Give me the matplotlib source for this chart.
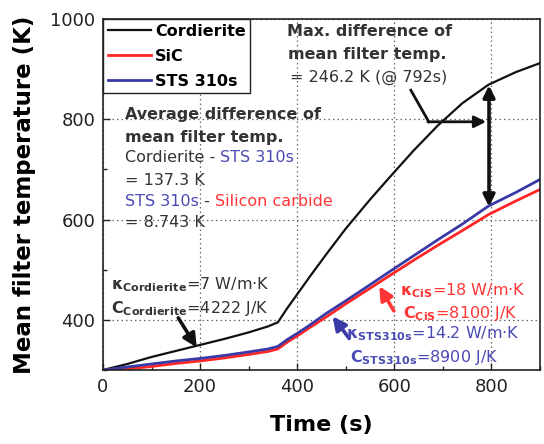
import matplotlib
matplotlib.use("Agg")
import matplotlib.pyplot as plt
from matplotlib.ticker import MultipleLocator
import numpy as np

# values
time_s = [0, 50, 100, 150, 200, 250, 300, 340, 360, 380, 400, 425, 460, 500,
          550, 590, 640, 690, 740, 794, 850, 900]
cordierite = [300, 312, 326, 338, 350, 362, 375, 387, 395, 424, 451, 485, 531, 582,
              640, 684, 738, 788, 832, 869, 894, 912]
sts310s = [300, 306, 312, 318, 323, 329, 336, 342, 347, 361, 373, 389, 413, 438,
           470, 496, 528, 560, 591, 627, 654, 680]
sic = [300, 302, 307, 313, 318, 324, 331, 337, 342, 356, 368, 384, 406, 432,
       463, 488, 519, 549, 578, 610, 637, 660]
max_diff_time = 792

BLACK = '#111111'
RED = '#ff2626'
BLUE = '#3a3aa6'
GRAY = '#333333'
TBLUE = '#4a4ab4'
TRED = '#ff3535'

plt.rcParams['font.family'] = 'DejaVu Sans'
plt.rcParams['mathtext.fontset'] = 'dejavusans'

fig = plt.figure(figsize=(5.44, 4.44), dpi=100)
ax = fig.add_axes([103 / 544, 1 - 370 / 444, 437 / 544, 351 / 444])

ax.plot(time_s, cordierite, color=BLACK, lw=1.6, label='Cordierite')
ax.plot(time_s, sic, color=RED, lw=2.0, label='SiC')
ax.plot(time_s, sts310s, color=BLUE, lw=2.0, label='STS 310s')

ax.set_xlim(0, 900)
ax.set_ylim(300, 1000)
ax.xaxis.set_major_locator(MultipleLocator(200))
ax.xaxis.set_minor_locator(MultipleLocator(100))
ax.yaxis.set_major_locator(MultipleLocator(200))
ax.yaxis.set_minor_locator(MultipleLocator(100))
ax.tick_params(which='both', direction='in', labelsize=13, colors='#222222', pad=5.5)
ax.tick_params(which='major', length=5, width=1)
ax.tick_params(which='minor', length=3, width=1)
ax.grid(True, which='major', color='#666666', lw=0.9, linestyle=(0, (1.2, 2.4)))
for sp in ax.spines.values():
    sp.set_linewidth(1.2)
    sp.set_color('#222222')

ax.set_xlabel('Time (s)', fontsize=16, fontweight='bold', labelpad=14)
ax.set_ylabel('Mean filter temperature (K)', fontsize=16.5, fontweight='bold', labelpad=10)

leg = ax.legend(loc='upper left', bbox_to_anchor=(0, 1), borderaxespad=0,
                prop={'weight': 'bold', 'size': 11.5}, handlelength=2.7,
                handletextpad=0.25, labelspacing=0.62, borderpad=0.3,
                fancybox=False, framealpha=1, edgecolor='#222222')
leg.get_frame().set_linewidth(1.0)


def px(x, y):
    return x / 544, 1 - y / 444


# max difference annotation
fig.text(*px(287, 31), 'Max. difference of', fontsize=11.5,
         fontweight='bold', color=GRAY, va='center')
fig.text(*px(288, 54), 'mean filter temp.', fontsize=11.5,
         fontweight='bold', color=GRAY, va='center')
fig.text(*px(290, 77), '= 246.2 K (@ 792s)', fontsize=11.5, color=GRAY, va='center')

ax.plot([634, 671], [858, 795], color=BLACK, lw=2.0)
ax.annotate('', xy=(789, 795), xytext=(669, 795),
            arrowprops=dict(arrowstyle='-|>,head_width=0.35,head_length=0.7',
                            color=BLACK, lw=2.0, shrinkA=0, shrinkB=0))
top = np.interp(max_diff_time, time_s, cordierite)
bot = np.interp(max_diff_time, time_s, sts310s)
ax.annotate('', xy=(max_diff_time + 3, top), xytext=(max_diff_time + 3, bot),
            arrowprops=dict(arrowstyle='<|-|>,head_width=0.35,head_length=0.7',
                            color=BLACK, lw=2.6, shrinkA=0, shrinkB=0))

# average difference annotation
fs = 11.5
fig.text(*px(125, 115), 'Average difference of', fontsize=fs, fontweight='bold',
         color=GRAY, va='center')
fig.text(*px(125, 137), 'mean filter temp.', fontsize=fs, fontweight='bold',
         color=GRAY, va='center')
t1 = fig.text(*px(125, 158), 'Cordierite - ', fontsize=fs, color=GRAY, va='center')
ax.annotate('STS 310s', xy=(1, 0.5), xycoords=t1, fontsize=fs, color=TBLUE,
            va='center', ha='left')
fig.text(*px(125, 180), '= 137.3 K', fontsize=fs, color=GRAY, va='center')
t2 = fig.text(*px(125, 201), 'STS 310s', fontsize=fs, color=TBLUE, va='center')
t3 = ax.annotate(' - ', xy=(1, 0.5), xycoords=t2, fontsize=fs, color=GRAY,
                 va='center', ha='left')
ax.annotate('Silicon carbide', xy=(1, 0.5), xycoords=t3, fontsize=fs, color=TRED,
            va='center', ha='left')
fig.text(*px(125, 222), '= 8.743 K', fontsize=fs, color=GRAY, va='center')

# material properties
fk = 11.5
fig.text(*px(111, 285), r'$\mathbf{\kappa_{Cordierite}}$=7 W/m$\cdot$K', fontsize=fk,
         color=GRAY, va='center')
fig.text(*px(111, 309), r'$\mathbf{C_{Cordierite}}$=4222 J/K', fontsize=fk,
         color=GRAY, va='center')
ax.annotate('', xy=(193, 345), xytext=(155, 404),
            arrowprops=dict(arrowstyle='-|>,head_width=0.4,head_length=0.8',
                            color=BLACK, lw=2.6, shrinkA=0, shrinkB=0))

fig.text(*px(400, 291), r'$\mathbf{\kappa_{CiS}}$=18 W/m$\cdot$K', fontsize=fk,
         color=TRED, va='center')
fig.text(*px(403, 313), r'$\mathbf{C_{CiS}}$=8100 J/K', fontsize=fk,
         color=TRED, va='center')
ax.annotate('', xy=(569, 467), xytext=(599, 418),
            arrowprops=dict(arrowstyle='-|>,head_width=0.4,head_length=0.8',
                            color=TRED, lw=2.6, shrinkA=0, shrinkB=0))

fig.text(*px(346, 334), r'$\mathbf{\kappa_{STS310s}}$=14.2 W/m$\cdot$K', fontsize=fk,
         color=TBLUE, va='center')
fig.text(*px(350, 357), r'$\mathbf{C_{STS310s}}$=8900 J/K', fontsize=fk,
         color=TBLUE, va='center')
ax.annotate('', xy=(473, 407), xytext=(507, 363),
            arrowprops=dict(arrowstyle='-|>,head_width=0.4,head_length=0.8',
                            color=BLUE, lw=2.6, shrinkA=0, shrinkB=0))

fig.savefig('out.png', dpi=100)
